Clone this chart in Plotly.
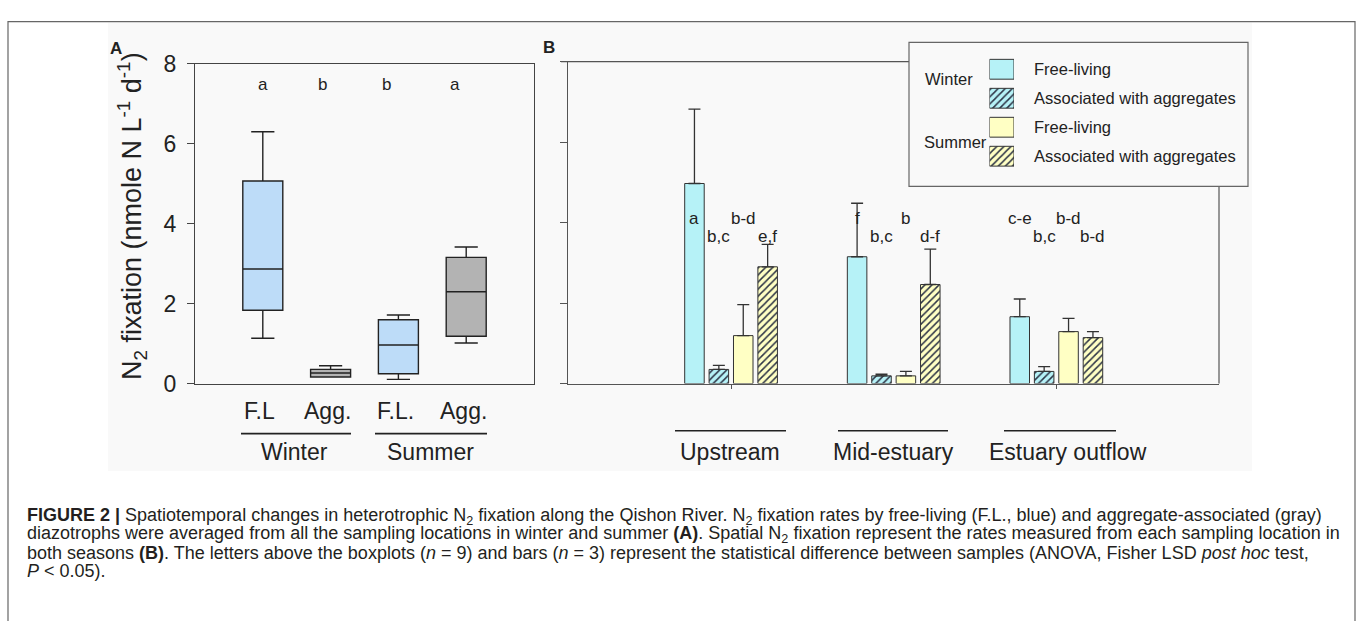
import plotly.graph_objects as go

W, H = 1357, 621
def px(x): return x / W
def py(y): return 1 - y / H

FONT = "Arial, Liberation Sans, sans-serif"
INK = "#222222"

# ---------------- Panel A data (boxplots) ----------------
box_labels = ["F.L", "Agg.", "F.L.", "Agg."]
box_lower = [1.14, 0.17, 0.11, 1.02]
box_q1 = [1.84, 0.17, 0.25, 1.19]
box_median = [2.87, 0.27, 0.97, 2.30]
box_q3 = [5.07, 0.36, 1.60, 3.16]
box_upper = [6.30, 0.45, 1.72, 3.42]
box_fill = ["#bddcf8", "#b3b3b3", "#bddcf8", "#b3b3b3"]
box_letters = ["a", "b", "b", "a"]
seasons_A = ["Winter", "Summer"]

# ---------------- Panel B data (bars) ----------------
sites = ["Upstream", "Mid-estuary", "Estuary outflow"]
winter_fl = [4.97, 3.15, 1.66]
winter_fl_err = [1.85, 1.33, 0.44]
winter_agg = [0.35, 0.19, 0.30]
winter_agg_err = [0.10, 0.04, 0.12]
summer_fl = [1.19, 0.19, 1.29]
summer_fl_err = [0.77, 0.11, 0.33]
summer_agg = [2.90, 2.46, 1.14]
summer_agg_err = [0.56, 0.88, 0.15]
letters_wfl = ["a", "f", "c-e"]
letters_wagg = ["b,c", "b,c", "b,c"]
letters_sfl = ["b-d", "b", "b-d"]
letters_sagg = ["e,f", "d-f", "b-d"]
legend_labels = ["Free-living", "Associated with aggregates", "Free-living", "Associated with aggregates"]

CYAN = "#b6f2f7"
YELLOW = "#ffffc4"
HATCH = "#2c3345"

series = [
    dict(name="Winter free-living", y=winter_fl, err=winter_fl_err, letters=letters_wfl,
         color=CYAN, shape="", row="up"),
    dict(name="Winter aggregates", y=winter_agg, err=winter_agg_err, letters=letters_wagg,
         color=CYAN, shape="/", row="low"),
    dict(name="Summer free-living", y=summer_fl, err=summer_fl_err, letters=letters_sfl,
         color=YELLOW, shape="", row="up"),
    dict(name="Summer aggregates", y=summer_agg, err=summer_agg_err, letters=letters_sagg,
         color=YELLOW, shape="/", row="low"),
]
bar_centers = [-0.225, -0.075, 0.075, 0.225]
bar_w = 0.12

fig = go.Figure()

# Panel A boxes
for i in range(4):
    fig.add_trace(go.Box(
        x=[i + 1], q1=[box_q1[i]], median=[box_median[i]], q3=[box_q3[i]],
        lowerfence=[box_lower[i]], upperfence=[box_upper[i]],
        width=0.59, whiskerwidth=0.58, fillcolor=box_fill[i],
        line=dict(color=INK, width=1.4), boxpoints=False,
        xaxis="x", yaxis="y", showlegend=False, hoverinfo="skip"))

def marker_for(s):
    m = dict(color=s["color"], line=dict(color="#333333", width=1))
    if s["shape"]:
        m["pattern"] = dict(shape=s["shape"], fgcolor=HATCH, bgcolor=s["color"],
                            size=5, solidity=0.3, fillmode="replace")
    return m

# Panel B bars
xs = [1, 2, 3]
for k, s in enumerate(series):
    fig.add_trace(go.Bar(
        x=xs, y=s["y"], offset=bar_centers[k] - bar_w / 2, width=bar_w,
        marker=marker_for(s),
        error_y=dict(type="data", array=s["err"], arrayminus=[0] * 3, symmetric=False,
                     color="#333333", thickness=1.3, width=6),
        xaxis="x2", yaxis="y2", showlegend=False, name=s["name"]))

# Legend swatches (hidden axis)
for k, s in enumerate(series):
    fig.add_trace(go.Bar(
        y=[k + 1], x=[1], orientation="h", offset=-0.342, width=0.684,
        marker=marker_for(s), xaxis="x3", yaxis="y3", showlegend=False,
        hoverinfo="skip"))

shapes = []
annotations = []

def line_px(x0, y0, x1, y1, color="#333333", width=1.3):
    shapes.append(dict(type="line", xref="paper", yref="paper",
                       x0=px(x0), y0=py(y0), x1=px(x1), y1=py(y1),
                       line=dict(color=color, width=width)))

def text_px(x, y, t, size, xanchor="center", bold=False, angle=0, color=INK):
    annotations.append(dict(xref="paper", yref="paper", x=px(x), y=py(y),
                            text=f"<b>{t}</b>" if bold else t, showarrow=False,
                            xanchor=xanchor, yanchor="middle", textangle=angle,
                            font=dict(family=FONT, size=size, color=color)))

# background of figure image and outer frame
shapes.append(dict(type="rect", xref="paper", yref="paper", layer="below",
                   x0=px(108), x1=px(1252), y0=py(478), y1=py(10),
                   fillcolor="#f9f9f9", line=dict(width=0)))
shapes.append(dict(type="rect", xref="paper", yref="paper",
                   x0=px(8), x1=px(1355), y0=py(660), y1=py(9),
                   line=dict(color="#666666", width=1.2)))

# Panel A annotations
letter_x_A = [1.01, 1.88, 2.83, 3.84]
for i in range(4):
    annotations.append(dict(xref="x", yref="y", x=letter_x_A[i], y=7.47, text=box_letters[i],
                            showarrow=False, font=dict(family=FONT, size=17, color=INK)))
    annotations.append(dict(xref="x", yref="paper", x=i + 1, y=py(415), text=box_labels[i],
                            showarrow=False, xshift=-3, yanchor="middle",
                            font=dict(family=FONT, size=23, color=INK)))
line_px(241, 439, 351, 439, INK, 1.6)
line_px(375, 439, 487, 439, INK, 1.6)
text_px(294, 458, seasons_A[0], 23)
text_px(430, 458, seasons_A[1], 23)
text_px(132, 212, "N<sub>2</sub> fixation (nmole N L<sup>-1</sup> d<sup>-1</sup>)", 27, angle=-90)
text_px(116, 37, "A", 17, bold=True)
text_px(549, 36, "B", 17, bold=True)

# Panel B annotations
for k, s in enumerate(series):
    yv = 4.10 if s["row"] == "up" else 3.66
    for j in range(3):
        annotations.append(dict(xref="x2", yref="y2", x=xs[j] + bar_centers[k], y=yv,
                                text=s["letters"][j], showarrow=False, yanchor="middle",
                                font=dict(family=FONT, size=17, color=INK)))
site_lines = [(675, 786), (838, 948), (1004, 1116)]
site_text_x = [730, 893, 1068]
for j in range(3):
    line_px(site_lines[j][0], 436, site_lines[j][1], 436, INK, 1.6)
    text_px(site_text_x[j], 458, sites[j], 23)

# Panel B frame pieces (top and right)
line_px(561, 50.7, 909, 50.7, "#555555", 1.2)
line_px(1219, 181, 1219, 386.7, "#555555", 1.2)

# Legend box
shapes.append(dict(type="rect", xref="paper", yref="paper",
                   x0=px(909), x1=px(1248), y0=py(181), y1=py(30.7),
                   line=dict(color="#666666", width=1.2)))
legend_y = [58.7, 89.0, 119.2, 149.5]
for k in range(4):
    text_px(1031.7, legend_y[k], legend_labels[k], 16.5, xanchor="left")
text_px(923, 69.3, "Winter", 16.5, xanchor="left")
text_px(922, 135, "Summer", 16.5, xanchor="left")

# Caption
caption = [
    "<b>FIGURE 2 |</b> Spatiotemporal changes in heterotrophic N<sub>2</sub> fixation along the Qishon River. "
    "N<sub>2</sub> fixation rates by free-living (F.L., blue) and aggregate-associated (gray)",
    "diazotrophs were averaged from all the sampling locations in winter and summer <b>(A)</b>. "
    "Spatial N<sub>2</sub> fixation represent the rates measured from each sampling location in",
    "both seasons <b>(B)</b>. The letters above the boxplots (<i>n</i> = 9) and bars (<i>n</i> = 3) "
    "represent the statistical difference between samples (ANOVA, Fisher LSD <i>post hoc</i> test,",
    "<i>P</i> &lt; 0.05).",
]
cap_y = [526, 544.7, 563.4, 582.1]
for t, yy in zip(caption, cap_y):
    text_px(25, yy, t, 18, xanchor="left", color="#231f20")

axis_common = dict(showgrid=False, zeroline=False)
fig.update_layout(
    width=W, height=H, autosize=False,
    margin=dict(l=0, r=0, t=0, b=0),
    paper_bgcolor="white", plot_bgcolor="rgba(0,0,0,0)",
    barmode="overlay", showlegend=False,
    font=dict(family=FONT, color=INK),
    xaxis=dict(domain=[px(195), px(534)], range=[0, 5], showline=True, mirror=True,
               linecolor="#444444", linewidth=1.2, showticklabels=False, ticks="",
               anchor="y", **axis_common),
    yaxis=dict(domain=[py(387), py(53)], range=[0, 8], tickvals=[0, 2, 4, 6, 8],
               ticks="outside", ticklen=7, tickcolor="#444444", showline=True, mirror=True,
               linecolor="#444444", linewidth=1.2, tickfont=dict(size=23, color=INK),
               ticklabelstandoff=6, anchor="x", **axis_common),
    xaxis2=dict(domain=[px(568.4), px(1219)], range=[0, 4], showline=True,
                linecolor="#555555", linewidth=1.2, tickvals=[1, 3], ticks="outside",
                ticklen=4, tickcolor="#555555", showticklabels=False, anchor="y2",
                **axis_common),
    yaxis2=dict(domain=[py(386.7), py(50.7)], range=[0, 8], tickvals=[0, 2, 4, 6, 8],
                ticks="outside", ticklen=7, tickcolor="#555555", showline=True,
                linecolor="#555555", linewidth=1.2, showticklabels=False, anchor="x2",
                **axis_common),
    xaxis3=dict(domain=[px(989.5), px(1014)], range=[0, 1], visible=False, anchor="y3"),
    yaxis3=dict(domain=[py(164.6), py(43.6)], range=[4.5, 0.5], visible=False, anchor="x3"),
    shapes=shapes, annotations=annotations,
)

fig.write_html("out.html")
